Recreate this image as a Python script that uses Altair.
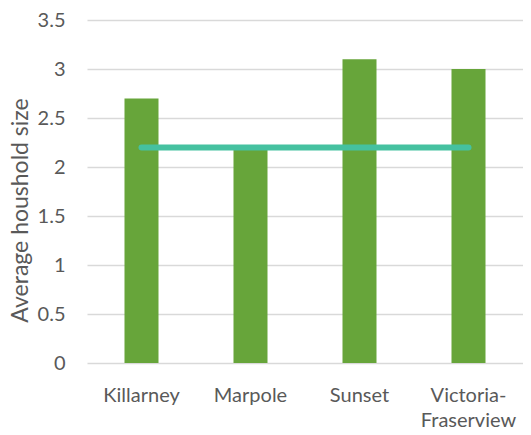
import altair as alt
import pandas as pd

neighbourhoods = ["Killarney", "Marpole", "Sunset", "Victoria-Fraserview"]
household_size = [2.7, 2.2, 3.1, 3.0]
city_average = [2.2, 2.2, 2.2, 2.2]

df = pd.DataFrame({"area": neighbourhoods, "size": household_size, "avg": city_average})

FONT = "Lato"
GREY = "#595959"

bars = alt.Chart(df).mark_bar(color="#67a53a").encode(
    x=alt.X(
        "area:N",
        sort=neighbourhoods,
        scale=alt.Scale(paddingInner=0.688, paddingOuter=0.344),
        axis=alt.Axis(
            title=None,
            labelAngle=0,
            labelPadding=22,
            labelLineHeight=25,
            grid=False,
            labelExpr="datum.label == 'Victoria-Fraserview' ? ['Victoria-', 'Fraserview'] : datum.label",
        ),
    ),
    y=alt.Y(
        "size:Q",
        scale=alt.Scale(domain=[0, 3.5], nice=False),
        axis=alt.Axis(
            title="Average houshold size",
            titlePadding=5,
            titleY=190,
            labelPadding=22,
            values=[0, 0.5, 1, 1.5, 2, 2.5, 3, 3.5],
            labelExpr="datum.value",
        ),
    ),
)

line = alt.Chart(df).mark_line(color="#45c1a0", strokeWidth=6, strokeCap="round").encode(
    x=alt.X("area:N", sort=neighbourhoods),
    y=alt.Y("avg:Q"),
)

chart = (
    alt.layer(bars, line)
    .properties(
        width=436,
        height=343,
        autosize=alt.AutoSizeParams(type="none"),
        padding={"left": 79, "top": 12, "right": 0, "bottom": 64},
    )
    .configure_view(stroke=None)
    .configure_axis(
        labelFont=FONT,
        labelFontSize=20,
        labelColor=GREY,
        titleFont=FONT,
        titleFontSize=23,
        titleFontWeight="normal",
        titleColor=GREY,
        ticks=False,
        domain=False,
        gridColor="#d9d9d9",
        gridWidth=1.5,
    )
)

chart.save("out.html", embed_options={"renderer": "svg", "actions": False})
